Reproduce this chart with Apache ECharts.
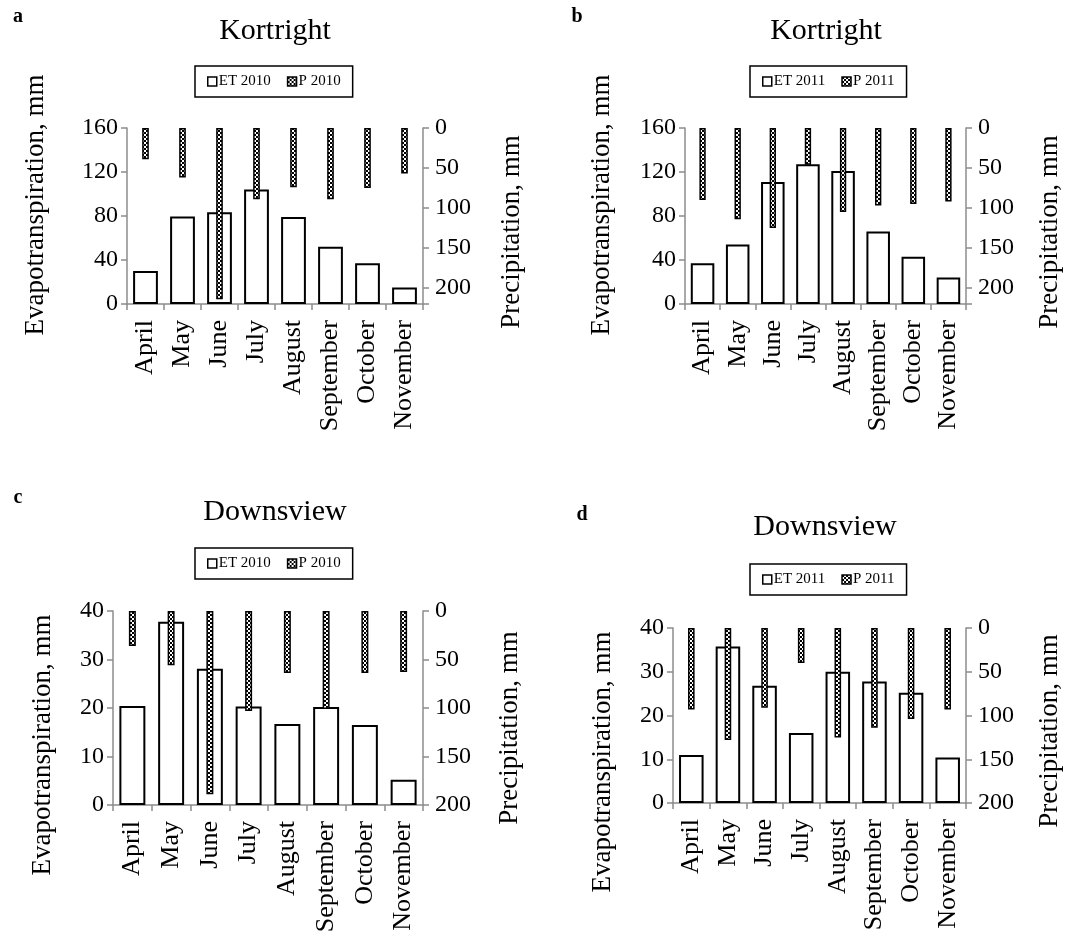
<!DOCTYPE html>
<html>
<head>
<meta charset="utf-8">
<script src="https://cdn.jsdelivr.net/npm/echarts@6/dist/echarts.min.js"></script>
<style>
  html, body { margin: 0; padding: 0; background: #fff; }
  #chart { width: 1091px; height: 937px; }
</style>
</head>
<body>
<div id="chart"></div>
<script>
// months on the x axis
const months = ['April', 'May', 'June', 'July', 'August', 'September', 'October', 'November']

// evapotranspiration (mm) and precipitation (mm)
const etKortright2010 = [30, 79.5, 83.5, 104, 79, 52, 37, 15]
const pKortright2010 = [39, 62, 214, 89, 74, 89, 75, 57]
const etKortright2011 = [37, 54, 111, 127, 121, 66, 43, 24]
const pKortright2011 = [90, 114, 125, 46, 105, 97, 95, 92]
const etDownsview2010 = [20.4, 37.8, 28.1, 20.3, 16.7, 20.2, 16.5, 5.2]
const pDownsview2010 = [36, 56, 189, 103, 64, 101, 64, 63]
const etDownsview2011 = [11, 35.8, 26.8, 16, 30, 27.8, 25.2, 10.4]
const pDownsview2011 = [93, 128, 91, 40, 125, 114, 104, 93]

// axis tick settings
const etTicksKortright = { max: 160, interval: 40 }
const etTicksDownsview = { max: 40, interval: 10 }
const pTicksKortright = { max: 220, interval: 50 }
const pTicksDownsview = { max: 200, interval: 50 }

const FONT = "'Liberation Serif', 'Times New Roman', serif"
const AXIS_GRAY = '#8c8c8c'

// checker pattern for the precipitation bars
const pat = document.createElement('canvas')
pat.width = 4
pat.height = 4
const pctx = pat.getContext('2d')
pctx.fillStyle = '#fff'
pctx.fillRect(0, 0, 4, 4)
pctx.fillStyle = '#000'
pctx.fillRect(0, 0, 2, 2)
pctx.fillRect(2, 2, 2, 2)

const panels = [
  { letter: 'a', title: 'Kortright', year: '2010', et: etKortright2010, p: pKortright2010,
    etTicks: etTicksKortright, pTicks: pTicksKortright,
    grid: { left: 127, top: 128, width: 296, height: 176 },
    legend: { left: 195, top: 66 },
    leftName: [36, 205], rightName: [512, 232],
    titlePos: [275, 31], letterPos: [18, 17] },
  { letter: 'b', title: 'Kortright', year: '2011', et: etKortright2011, p: pKortright2011,
    etTicks: etTicksKortright, pTicks: pTicksKortright,
    grid: { left: 685, top: 128, width: 281, height: 176 },
    legend: { left: 750, top: 66 },
    leftName: [602, 205], rightName: [1050, 232],
    titlePos: [826, 31], letterPos: [577, 17] },
  { letter: 'c', title: 'Downsview', year: '2010', et: etDownsview2010, p: pDownsview2010,
    etTicks: etTicksDownsview, pTicks: pTicksDownsview,
    grid: { left: 113, top: 611, width: 310, height: 194 },
    legend: { left: 195, top: 548 },
    leftName: [43, 745], rightName: [510, 728],
    titlePos: [275, 512], letterPos: [18, 498] },
  { letter: 'd', title: 'Downsview', year: '2011', et: etDownsview2011, p: pDownsview2011,
    etTicks: etTicksDownsview, pTicks: pTicksDownsview,
    grid: { left: 673, top: 628, width: 293, height: 175 },
    legend: { left: 750, top: 564 },
    leftName: [603, 762], rightName: [1050, 731],
    titlePos: [825, 527], letterPos: [582, 515] }
]

const grids = []
const xAxes = []
const yAxes = []
const series = []
const legends = []
const graphics = []

function axisTitle (pos, text) {
  return {
    type: 'text',
    x: pos[0],
    y: pos[1],
    rotation: Math.PI / 2,
    style: { text: text, fill: '#000', font: '27px ' + FONT, align: 'center', verticalAlign: 'middle' }
  }
}

panels.forEach((pn, i) => {
  grids.push(Object.assign({ outerBoundsMode: 'none', containLabel: false }, pn.grid))

  // visible category axis for ET, hidden twin for P
  xAxes.push({
    type: 'category',
    gridIndex: i,
    data: months,
    axisLine: { lineStyle: { color: AXIS_GRAY, width: 1.5 } },
    axisTick: { show: true, length: 6, lineStyle: { color: AXIS_GRAY, width: 1.5 } },
    axisLabel: { rotate: 90, margin: 16, color: '#000', fontSize: 26, fontFamily: FONT, interval: 0 }
  })
  xAxes.push({ type: 'category', gridIndex: i, data: months, show: false })

  yAxes.push({
    type: 'value',
    gridIndex: i,
    position: 'left',
    min: 0,
    max: pn.etTicks.max,
    interval: pn.etTicks.interval,
    splitLine: { show: false },
    axisLine: { show: true, lineStyle: { color: AXIS_GRAY, width: 1.5 } },
    axisTick: { show: true, length: 6, lineStyle: { color: AXIS_GRAY, width: 1.5 } },
    axisLabel: { color: '#000', fontSize: 24, fontFamily: FONT, margin: 9 }
  })
  yAxes.push({
    type: 'value',
    gridIndex: i,
    position: 'right',
    inverse: true,
    min: 0,
    max: pn.pTicks.max,
    interval: pn.pTicks.interval,
    splitLine: { show: false },
    axisLine: { show: true, lineStyle: { color: AXIS_GRAY, width: 1.5 } },
    axisTick: { show: true, length: 6, lineStyle: { color: AXIS_GRAY, width: 1.5 } },
    axisLabel: {
      color: '#000', fontSize: 24, fontFamily: FONT, margin: 12,
      formatter: v => (v > 200 ? '' : String(v))
    }
  })

  const etName = 'ET ' + pn.year
  const pName = 'P ' + pn.year
  series.push({
    type: 'bar',
    name: etName,
    xAxisIndex: i * 2,
    yAxisIndex: i * 2,
    barWidth: '67%',
    data: pn.et,
    itemStyle: { color: '#fff', borderColor: '#000', borderWidth: 2 },
    silent: true
  })
  series.push({
    type: 'bar',
    name: pName,
    xAxisIndex: i * 2 + 1,
    yAxisIndex: i * 2 + 1,
    barWidth: '18%',
    data: pn.p,
    itemStyle: { color: { image: pat, repeat: 'repeat' }, borderColor: '#000', borderWidth: 1.5 },
    silent: true
  })

  legends.push({
    data: [
      { name: etName, icon: 'rect' },
      { name: pName, icon: 'rect' }
    ],
    left: pn.legend.left,
    top: pn.legend.top,
    orient: 'horizontal',
    borderColor: '#000',
    borderWidth: 1.5,
    padding: [8, 12],
    itemGap: 16,
    itemWidth: 9,
    itemHeight: 9,
    itemStyle: { borderWidth: 1.5, borderColor: '#000' },
    selectedMode: false,
    textStyle: { color: '#000', fontSize: 15, fontFamily: FONT, padding: [0, 0, 0, -3] }
  })

  graphics.push({
    type: 'text',
    x: pn.titlePos[0],
    y: pn.titlePos[1],
    style: { text: pn.title, fill: '#000', font: '30px ' + FONT, align: 'center', verticalAlign: 'middle' }
  })
  graphics.push({
    type: 'text',
    x: pn.letterPos[0],
    y: pn.letterPos[1],
    style: { text: pn.letter, fill: '#000', font: 'bold 20px ' + FONT, align: 'center', verticalAlign: 'middle' }
  })
  graphics.push(axisTitle(pn.leftName, 'Evapotranspiration, mm'))
  graphics.push(axisTitle(pn.rightName, 'Precipitation, mm'))
})

const chart = echarts.init(document.getElementById('chart'), null, { renderer: 'canvas' })
chart.setOption({
  animation: false,
  backgroundColor: '#fff',
  grid: grids,
  xAxis: xAxes,
  yAxis: yAxes,
  legend: legends,
  series: series,
  graphic: graphics
})
</script>
</body>
</html>
